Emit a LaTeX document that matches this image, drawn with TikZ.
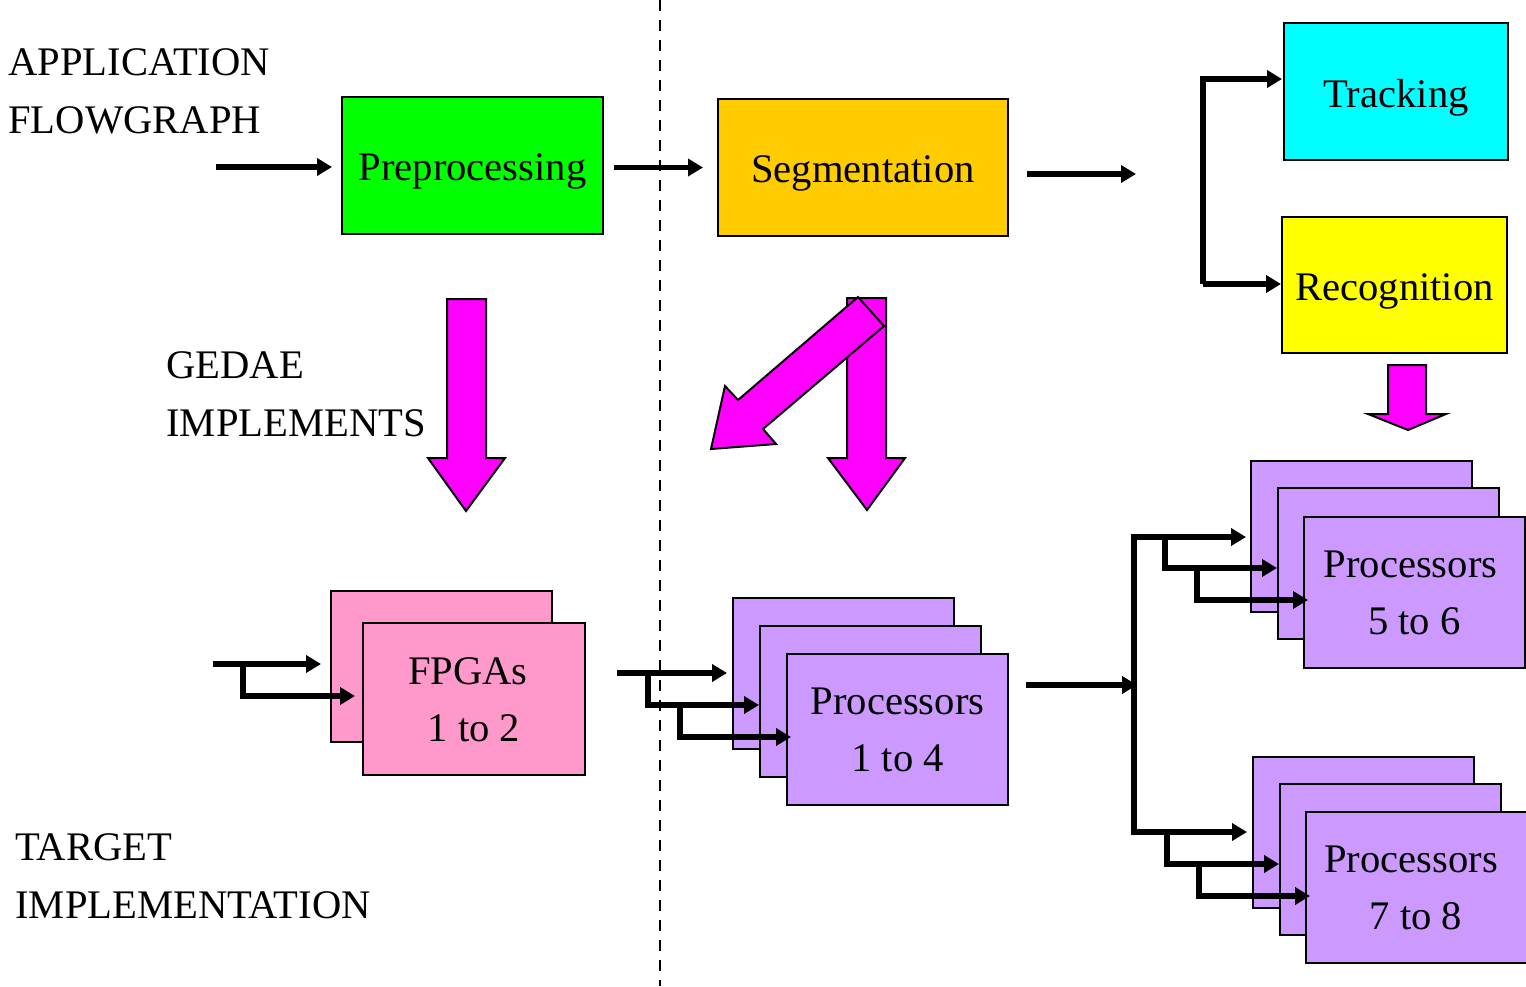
\documentclass[tikz,border=0pt]{standalone}
\usepackage{fontspec}
\setmainfont{Liberation Serif}
\usetikzlibrary{arrows.meta,calc}
\definecolor{grn}{HTML}{00FF00}
\definecolor{org}{HTML}{FFCC00}
\definecolor{cyn}{HTML}{00FFFF}
\definecolor{ylw}{HTML}{FFFF00}
\definecolor{pnk}{HTML}{FF99CC}
\definecolor{lil}{HTML}{CC99FF}
\definecolor{mag}{HTML}{FF00FF}
% text lowered inside its box without changing the box size
\newcommand\lowertext[2]{\raisebox{-#1}[\height][\depth]{#2}}
\newcommand\twolines[2]{\lowertext{1.25pt}{\begin{tabular}{@{}c@{}}#1\\#2\end{tabular}}}
\begin{document}
\begin{tikzpicture}[x=0.5pt,y=-0.5pt,
  every node/.style={font=\fontsize{20.3}{28.5}\selectfont},
  stage/.style={draw=black, line width=1pt, inner sep=0pt, minimum height=68.5pt},
  unit/.style={draw=black, line width=1pt, fill=lil, inner sep=0pt,
    minimum width=110.5pt, minimum height=75.5pt},
  flow/.style={line width=2.75pt, line join=miter, -{Triangle[length=7.5pt,width=8.5pt]}},
  bigarrow/.style={draw=black, line width=1pt, fill=mag, line join=miter},
  divider/.style={line width=1.25pt, dash pattern=on 5.5pt off 4.5pt},
  label/.style={anchor=base west, inner sep=0pt}]

\useasboundingbox (0,0) rectangle (1526,986);

% boundary between stages
\coordinate (dtop) at (660,0);
\coordinate (dbot) at (660,986);
\draw[divider] (dtop) -- (dbot);

% side labels
\node[label] (l1) at (8,75) {APPLICATION};
\node[label] (l2) at (8,133) {FLOWGRAPH};
\node[label] (l3) at (166,378) {GEDAE};
\node[label] (l4) at (166,436) {IMPLEMENTS};
\node[label] (l5) at (15,860) {TARGET};
\node[label] (l6) at (15,918) {IMPLEMENTATION};

% application flowgraph stages
\node[stage, fill=grn, minimum width=130.5pt] (pre) at (472.5,165.5) {\lowertext{3pt}{Preprocessing}};
\node[stage, fill=org, minimum width=145pt] (seg) at (863,167.5) {\lowertext{3pt}{Segmentation}};
\node[stage, fill=cyn, minimum width=112pt] (trk) at (1396,91.5) {\lowertext{3pt}{Tracking}};
\node[stage, fill=ylw, minimum width=112.5pt, minimum height=68pt] (rec) at (1394.5,285) {\lowertext{3.25pt}{Recognition}};

% flowgraph connectors
\coordinate (prein) at (216,167);
\coordinate (segout) at (1136,174);
\coordinate (fork) at (1203,284);
\coordinate (trkin) at (1282,79);
\draw[flow, shorten >=4.5pt] (prein) -- (prein -| pre.west);
\draw[flow, shorten <=5pt, shorten >=7pt] (pre.east |- seg.west) -- (seg.west);
\draw[flow, shorten <=9pt] (seg.east |- segout) -- (segout);
\draw[flow] (fork) |- (trkin);
\draw[flow] (fork) -- (fork -| rec.west);

% mapping arrows
\draw[bigarrow] (447,299) -- (486,299) -- (486,458) -- (505,458) -- (466,511)
  -- (428,458) -- (447,458) -- cycle;
\draw[bigarrow] (847,298) -- (886,298) -- (886,458) -- (905,458) -- (867,510)
  -- (828,458) -- (847,458) -- cycle;
\draw[bigarrow] (858,297) -- (884,326) -- (763,429) -- (776,444) -- (711,449)
  -- (725,386) -- (738,400) -- cycle;
\draw[bigarrow] (1388,365) -- (1426,365) -- (1426,414) -- (1446,414) -- (1408,430)
  -- (1368,414) -- (1388,414) -- cycle;

% target hardware
\node[unit, fill=pnk] (fpgab) at (441.5,666.5) {};
\node[unit, fill=pnk, minimum width=111pt, minimum height=76pt] (fpga) at (474,699)
  {\twolines{FPGAs\kern6pt}{1 to 2}};

\node[unit] (u1a) at (843.5,673.5) {};
\node[unit] (u1b) at (870.5,701.5) {};
\node[unit] (u1c) at (897.5,729.5) {\twolines{Processors}{1 to 4}};

\node[unit] (u2a) at (1361,536.5) {};
\node[unit] (u2b) at (1388,563.5) {};
\node[unit] (u2c) at (1414.5,592.5) {\twolines{Processors\kern4pt}{5 to 6}};

\node[unit] (u3a) at (1363,832.5) {};
\node[unit] (u3b) at (1390.5,859.5) {};
\node[unit] (u3c) at (1416,887.5) {\twolines{Processors\kern5pt}{7 to 8}};

% FPGA inputs
\coordinate (fin) at (213,664);
\coordinate (fbr) at (243,664);
\coordinate (fin2) at (355,696);
\draw[flow, shorten >=4.5pt] (fin) -- (fin -| fpgab.west);
\draw[flow] (fbr) |- (fin2);

% processors 1 to 4 inputs
\coordinate (pin) at (617,673);
\coordinate (pbr1) at (648,673);
\coordinate (pbr2) at (680,705);
\coordinate (ptip1) at (727,673);
\coordinate (ptip2) at (759,705);
\coordinate (ptip3) at (791,737);
\draw[flow] (pin) -- (ptip1);
\draw[flow] (pbr1) |- (ptip2);
\draw[flow] (pbr2) |- (ptip3);

% distribution to processors 5 to 8
\coordinate (pout) at (1026,685);
\coordinate (trunk) at (1137,685);
\coordinate (ttop) at (1134,537);
\coordinate (tbot) at (1134,832);
\draw[flow] (pout) -- (trunk);
\coordinate (atip1) at (1246,537);
\coordinate (abr1) at (1165,537);
\coordinate (atip2) at (1277,568);
\coordinate (abr2) at (1197,568);
\coordinate (atip3) at (1308,600);
\draw[flow] (tbot) -- (ttop) -- (atip1);
\draw[flow] (abr1) |- (atip2);
\draw[flow] (abr2) |- (atip3);
\coordinate (btip1) at (1247,832);
\coordinate (bbr1) at (1167,832);
\coordinate (btip2) at (1279,864);
\coordinate (bbr2) at (1199,864);
\coordinate (btip3) at (1310,896);
\draw[flow] (ttop) -- (tbot) -- (btip1);
\draw[flow] (bbr1) |- (btip2);
\draw[flow] (bbr2) |- (btip3);
\end{tikzpicture}
\end{document}
